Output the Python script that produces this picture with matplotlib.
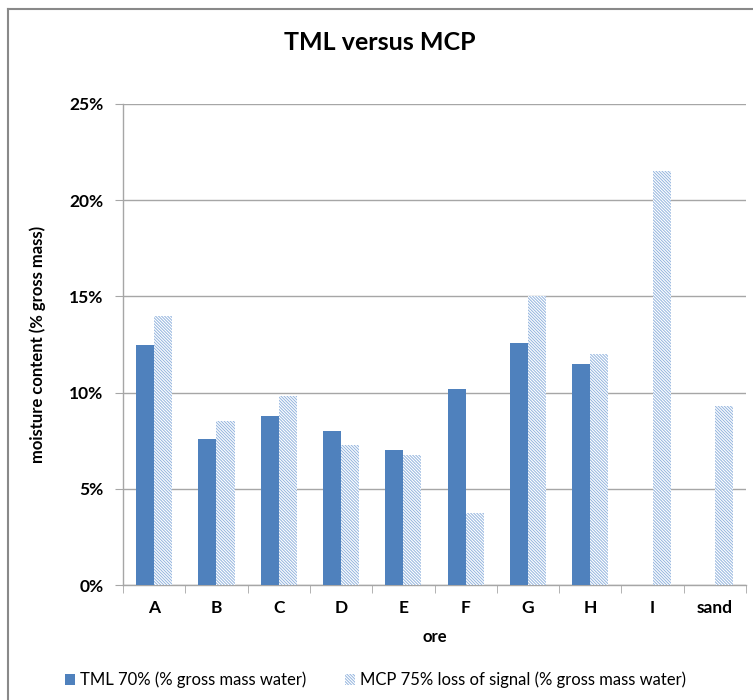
import matplotlib.pyplot as plt
import numpy as np
from matplotlib.lines import Line2D
from matplotlib.patches import Patch
from matplotlib.ticker import PercentFormatter, FixedLocator

plt.rcParams['font.family'] = ['Lato', 'DejaVu Sans']
plt.rcParams['hatch.linewidth'] = 0.7

categories = ['A', 'B', 'C', 'D', 'E', 'F', 'G', 'H', 'I', 'sand']
tml = [12.5, 7.6, 8.8, 8.0, 7.0, 10.2, 12.6, 11.5, np.nan, np.nan]
mcp = [14.0, 8.5, 9.8, 7.3, 6.75, 3.75, 15.0, 12.0, 21.5, 9.3]

tml_color = '#4F81BD'
mcp_color = '#93B4DE'
grey = '#A6A6A6'
hatch = '\\' * 11

fig = plt.figure(figsize=(7.53, 7.0), dpi=100)
ax = fig.add_axes([123 / 753, 115 / 700, 623 / 753, 481 / 700])

x = np.arange(len(categories))
w = 0.29
ax.bar(x - w / 2, tml, w, color=tml_color, linewidth=0, zorder=3,
       label='TML 70% (% gross mass water)')
ax.bar(x + w / 2, mcp, w, facecolor='white', edgecolor=mcp_color,
       hatch=hatch, linewidth=0, zorder=3,
       label='MCP 75% loss of signal (% gross mass water)')

ax.set_xlim(-0.5, len(categories) - 0.5)
ax.set_ylim(0, 25)
ax.set_yticks(np.arange(0, 26, 5))
ax.yaxis.set_major_formatter(PercentFormatter(decimals=0))
ax.yaxis.grid(True, color=grey, linewidth=1.0, zorder=0)
ax.set_axisbelow(True)

ax.set_xticks(x)
ax.set_xticklabels(categories, fontweight='bold', fontsize=12.5)
ax.xaxis.set_minor_locator(FixedLocator(np.arange(-0.5, len(categories), 1.0)))
ax.tick_params(axis='x', which='major', length=0, pad=11)
ax.tick_params(axis='x', which='minor', length=6, color=grey, direction='out')
ax.tick_params(axis='y', length=6, color=grey, labelsize=12.5, pad=8)
for lbl in ax.get_yticklabels():
    lbl.set_fontweight('bold')

for s in ['top', 'right']:
    ax.spines[s].set_visible(False)
for s in ['left', 'bottom']:
    ax.spines[s].set_color(grey)
    ax.spines[s].set_linewidth(1.0)

ax.set_xlabel('ore', fontweight='bold', fontsize=12, labelpad=9)
ax.set_ylabel('moisture content (% gross mass)', fontweight='bold', fontsize=12, labelpad=17)

fig.text(380 / 753, 1 - 42 / 700, 'TML versus MCP', ha='center', va='center',
         fontsize=18, fontweight='bold')

handles = [Patch(facecolor=tml_color, linewidth=0),
           Patch(facecolor='white', edgecolor=mcp_color, hatch=hatch, linewidth=0)]
fig.legend(handles, ['TML 70% (% gross mass water)', 'MCP 75% loss of signal (% gross mass water)'],
           loc='center left', bbox_to_anchor=(50 / 753, 1 - 680 / 700), ncol=2, frameon=False,
           fontsize=12, handlelength=0.6, handleheight=0.6, handletextpad=0.3, columnspacing=2.3)

# chart border (top and left visible)
fig.add_artist(Line2D([8 / 753, 8 / 753], [0, 1 - 8.5 / 700], transform=fig.transFigure,
                      color='#898989', linewidth=1.5))
fig.add_artist(Line2D([8 / 753, 1], [1 - 8.5 / 700, 1 - 8.5 / 700], transform=fig.transFigure,
                      color='#898989', linewidth=1.5))

fig.savefig('out.png', dpi=100)
